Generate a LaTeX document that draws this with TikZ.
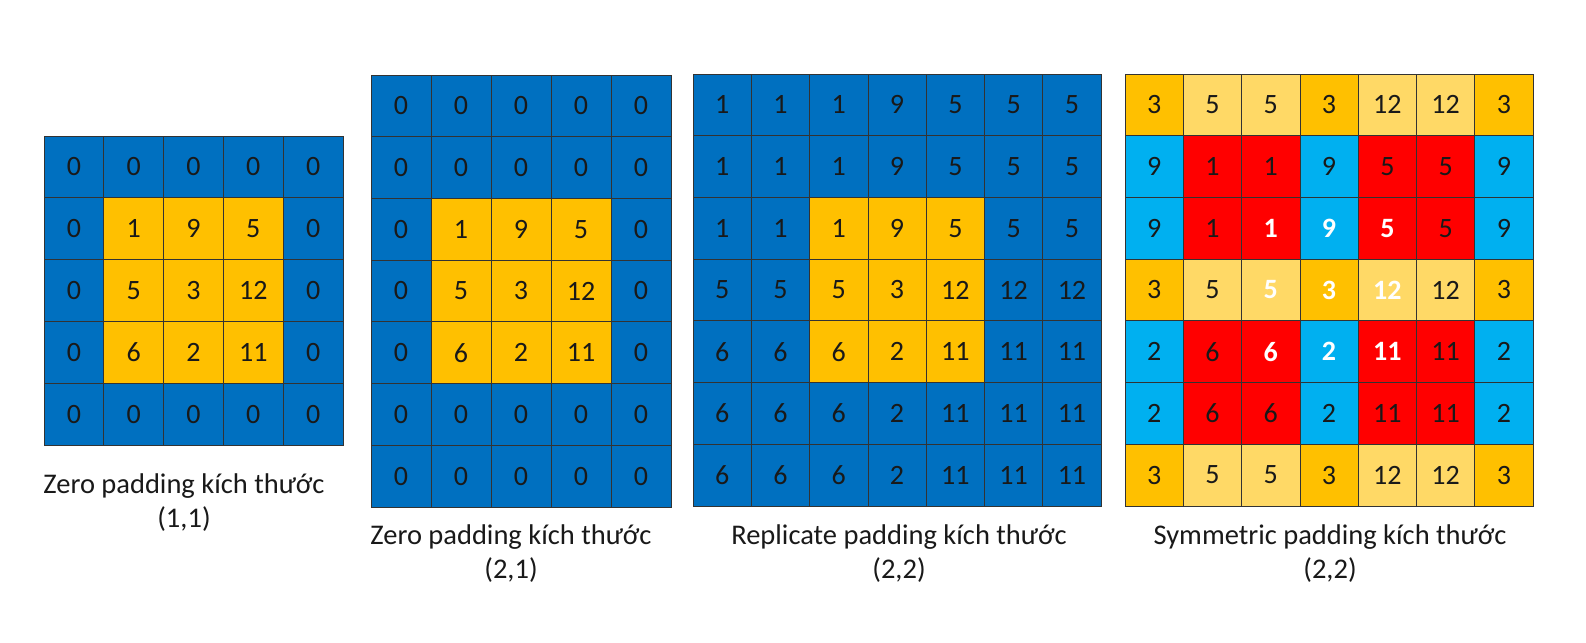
\documentclass[tikz,border=0pt]{standalone}
\usepackage{fontspec}
\setmainfont{Carlito}
\definecolor{cB}{HTML}{0070C0}
\definecolor{cG}{HTML}{FFC000}
\definecolor{cL}{HTML}{FFD966}
\definecolor{cR}{HTML}{FF0000}
\definecolor{cS}{HTML}{00B0F0}
\newcommand\padgrid[6]{%
  \foreach \rowlist [count=\ri] in {#6} {%
    \foreach \fc/\tc/\vv [count=\ci] in \rowlist {%
      \node[cell, fill=\fc, \tc, minimum width=#4pt, minimum height=#5pt]
        (#1-\ri-\ci) at ({#2+(\ci-0.5)*#4},{#3+(\ri-0.5)*#5}) {\vv};
    }%
  }%
}
\begin{document}
\begin{tikzpicture}[x=1pt,y=-1pt,
  cell/.style={draw=black!80, line width=0.7pt, inner sep=0pt,
    font=\fontsize{28}{28}\selectfont},
  k/.style={text=black!90},
  w/.style={text=white, font=\fontsize{28}{28}\selectfont\bfseries},
  lbl/.style={anchor=base, inner sep=0pt, font=\fontsize{28.5}{28.5}\selectfont, text=black!90}]
\useasboundingbox (0,0) rectangle (1586,642);
\fill[white] (0,0) rectangle (1586,642);
% grid 1
\padgrid{a}{44}{136}{59.8}{61.8}{%
 {cB/k/0,cB/k/0,cB/k/0,cB/k/0,cB/k/0},
 {cB/k/0,cG/k/1,cG/k/9,cG/k/5,cB/k/0},
 {cB/k/0,cG/k/5,cG/k/3,cG/k/12,cB/k/0},
 {cB/k/0,cG/k/6,cG/k/2,cG/k/11,cB/k/0},
 {cB/k/0,cB/k/0,cB/k/0,cB/k/0,cB/k/0}}
% grid 2
\padgrid{b}{371}{75}{60}{61.7}{%
 {cB/k/0,cB/k/0,cB/k/0,cB/k/0,cB/k/0},
 {cB/k/0,cB/k/0,cB/k/0,cB/k/0,cB/k/0},
 {cB/k/0,cG/k/1,cG/k/9,cG/k/5,cB/k/0},
 {cB/k/0,cG/k/5,cG/k/3,cG/k/12,cB/k/0},
 {cB/k/0,cG/k/6,cG/k/2,cG/k/11,cB/k/0},
 {cB/k/0,cB/k/0,cB/k/0,cB/k/0,cB/k/0},
 {cB/k/0,cB/k/0,cB/k/0,cB/k/0,cB/k/0}}
% grid 3
\padgrid{c}{693}{74}{58.3}{61.7}{%
 {cB/k/1,cB/k/1,cB/k/1,cB/k/9,cB/k/5,cB/k/5,cB/k/5},
 {cB/k/1,cB/k/1,cB/k/1,cB/k/9,cB/k/5,cB/k/5,cB/k/5},
 {cB/k/1,cB/k/1,cG/k/1,cG/k/9,cG/k/5,cB/k/5,cB/k/5},
 {cB/k/5,cB/k/5,cG/k/5,cG/k/3,cG/k/12,cB/k/12,cB/k/12},
 {cB/k/6,cB/k/6,cG/k/6,cG/k/2,cG/k/11,cB/k/11,cB/k/11},
 {cB/k/6,cB/k/6,cB/k/6,cB/k/2,cB/k/11,cB/k/11,cB/k/11},
 {cB/k/6,cB/k/6,cB/k/6,cB/k/2,cB/k/11,cB/k/11,cB/k/11}}
% grid 4
\padgrid{d}{1125}{74}{58.3}{61.7}{%
 {cG/k/3,cL/k/5,cL/k/5,cG/k/3,cL/k/12,cL/k/12,cG/k/3},
 {cS/k/9,cR/k/1,cR/k/1,cS/k/9,cR/k/5,cR/k/5,cS/k/9},
 {cS/k/9,cR/k/1,cR/w/1,cS/w/9,cR/w/5,cR/k/5,cS/k/9},
 {cG/k/3,cL/k/5,cL/w/5,cG/w/3,cL/w/12,cL/k/12,cG/k/3},
 {cS/k/2,cR/k/6,cR/w/6,cS/w/2,cR/w/11,cR/k/11,cS/k/2},
 {cS/k/2,cR/k/6,cR/k/6,cS/k/2,cR/k/11,cR/k/11,cS/k/2},
 {cG/k/3,cL/k/5,cL/k/5,cG/k/3,cL/k/12,cL/k/12,cG/k/3}}
% labels
\node[lbl] (la1) at (184,493) {Zero padding kích thước};
\node[lbl] (la2) at (184,527) {(1,1)};
\node[lbl] (lb1) at (511,544) {Zero padding kích thước};
\node[lbl] (lb2) at (511,578) {(2,1)};
\node[lbl] (lc1) at (899,544) {Replicate padding kích thước};
\node[lbl] (lc2) at (899,578) {(2,2)};
\node[lbl] (ld1) at (1330,544) {Symmetric padding kích thước};
\node[lbl] (ld2) at (1330,578) {(2,2)};
\end{tikzpicture}
\end{document}
